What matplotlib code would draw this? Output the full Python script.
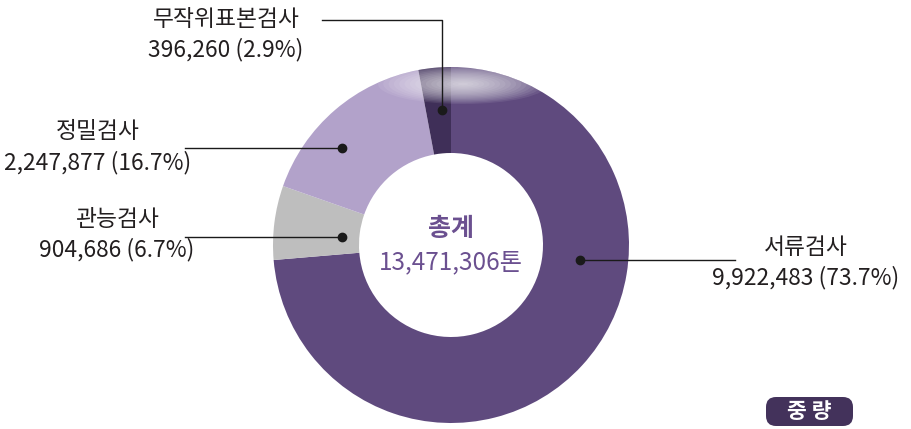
import matplotlib
matplotlib.use("Agg")
import matplotlib.pyplot as plt
from matplotlib.patches import Ellipse, FancyBboxPatch, Wedge

plt.rcParams['font.family'] = ['Noto Sans CJK KR', 'DejaVu Sans']

# ---- data ----
categories = ["서류검사", "관능검사", "정밀검사", "무작위표본검사"]
values = [9922483, 904686, 2247877, 396260]
percents = ["73.7%", "6.7%", "16.7%", "2.9%"]
total_label = "총계"
total_value = "13,471,306톤"
unit_badge = "중 량"

colors = ["#5f4a7e", "#bebebe", "#b2a2ca", "#3f2f58"]

W, H = 911, 429
fig = plt.figure(figsize=(W / 100, H / 100), dpi=100)
ax = fig.add_axes([0, 0, 1, 1])

def Y(y):
    return H - y

cx, cy, R, ring = 451, Y(245), 178, 86

wedges, _ = ax.pie(values, colors=colors, startangle=90, counterclock=False,
                   center=(cx, cy), radius=R,
                   wedgeprops=dict(width=ring, linewidth=0))

# soft highlight at the top of the ring
ring_patch = Wedge((cx, cy), R, 0, 360, width=ring, transform=ax.transData)
n = 16
for i in range(n):
    f = 1 - i / n
    e = Ellipse((cx + 12, Y(84)), 170 * f, 40 * f, facecolor="white",
                alpha=0.08, linewidth=0, zorder=3)
    ax.add_patch(e)
    e.set_clip_path(ring_patch)

# leader lines / label layout (pixel positions)
leaders = [
    dict(dot=(580, 260), end=735, tx=806, ty=(247, 278)),
    dict(dot=(342, 237), end=185, tx=117, ty=(219, 250)),
    dict(dot=(342, 148), end=185, tx=98, ty=(132, 163)),
    dict(dot=(442, 110), end=322, tx=226, ty=(19, 50), up=20),
]

fs = 16.4
for i, L in enumerate(leaders):
    dx, dy = L["dot"]
    ax.plot([dx], [Y(dy)], "o", color="#1a1a1a", ms=6, zorder=6)
    if "up" in L:
        ax.plot([dx, dx, L["end"]], [Y(dy), Y(L["up"]), Y(L["up"])],
                color="#1a1a1a", lw=1, zorder=5)
    else:
        ax.plot([dx, L["end"]], [Y(dy), Y(dy)], color="#1a1a1a", lw=1, zorder=5)
    ax.text(L["tx"], Y(L["ty"][0]), categories[i], ha="center", va="center",
            fontsize=fs, color="#231f20")
    ax.text(L["tx"], Y(L["ty"][1]), f"{values[i]:,} ({percents[i]})",
            ha="center", va="center", fontsize=fs, color="#231f20")

ax.text(cx, Y(229), total_label, ha="center", va="center", fontsize=18,
        fontweight="bold", color="#6b5090")
ax.text(cx, Y(262), total_value, ha="center", va="center", fontsize=17.5,
        color="#6b5090")

badge = FancyBboxPatch((766, Y(426)), 87, 29, boxstyle="round,pad=0,rounding_size=10",
                       facecolor="#43325b", edgecolor="none", zorder=5)
ax.add_patch(badge)
ax.text(809.5, Y(411), unit_badge, ha="center", va="center", fontsize=15.5,
        fontweight="bold", color="white", zorder=6)

ax.set_xlim(0, W)
ax.set_ylim(0, H)
ax.set_aspect("auto")
ax.axis("off")

fig.savefig("out.png", dpi=100)
